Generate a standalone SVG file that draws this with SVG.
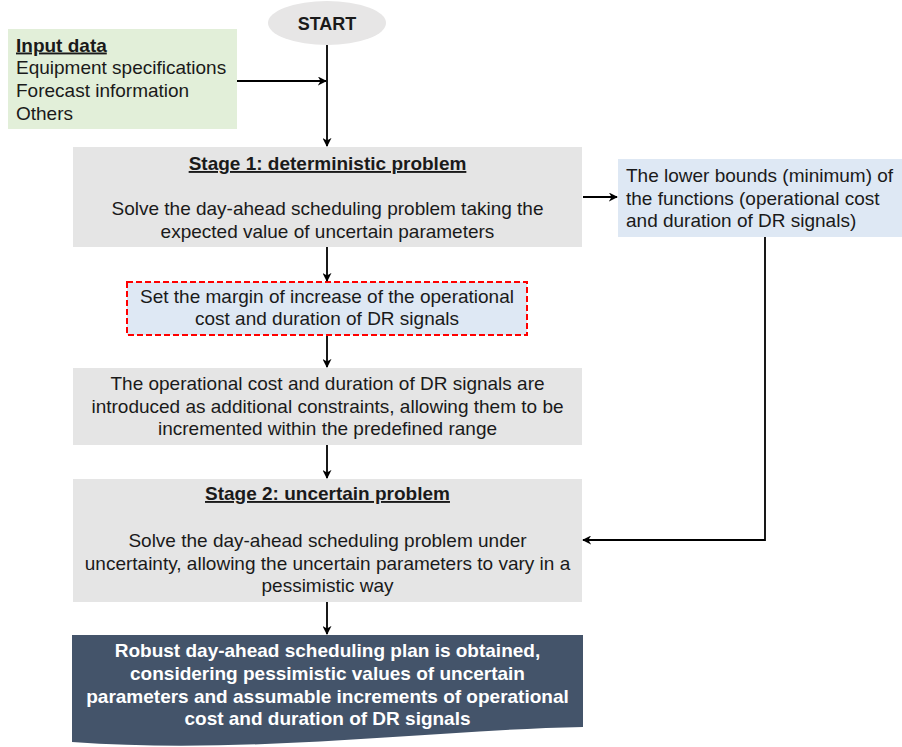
<svg xmlns="http://www.w3.org/2000/svg" width="902" height="747" viewBox="0 0 902 747">
<style>
text{font-family:"Liberation Sans",Arial,sans-serif;font-size:19px;fill:#1a1a1a}
.c{text-anchor:middle}
.b{font-weight:bold}
.u{text-decoration:underline}
.w{fill:#ffffff}
.gray{fill:#e5e5e5}
.blue{fill:#dee8f4}
.conn{stroke:#000;stroke-width:1.8;fill:none;marker-end:url(#ah)}
</style>
<defs>
<marker id="ah" viewBox="0 0 10 10" refX="9" refY="5" markerWidth="9" markerHeight="9" markerUnits="userSpaceOnUse" orient="auto">
<path d="M0,0 L10,5 L0,10 L3,5 z" fill="#000"/>
</marker>
</defs>
<g id="start">
<ellipse cx="327" cy="23" rx="59" ry="22" fill="#e7e6e6"/>
<text class="c b" x="327" y="30" style="font-size:18px">START</text>
</g>
<g id="input">
<rect x="8" y="29" width="229" height="100" fill="#e2efd9"/>
<text class="b u" x="16" y="51.5">Input data</text>
<text x="16" y="74">Equipment specifications</text>
<text x="16" y="97">Forecast information</text>
<text x="16" y="119.5">Others</text>
</g>
<g id="stage1">
<rect class="gray" x="73" y="147" width="509" height="100"/>
<text class="c b u" x="327.5" y="170">Stage 1: deterministic problem</text>
<text class="c" x="327.5" y="215">Solve the day-ahead scheduling problem taking the</text>
<text class="c" x="327.5" y="238">expected value of uncertain parameters</text>
</g>
<g id="lowerbounds">
<rect class="blue" x="618" y="159" width="284" height="78"/>
<text x="626" y="182">The lower bounds (minimum) of</text>
<text x="626" y="205">the functions (operational cost</text>
<text x="626" y="227">and duration of DR signals)</text>
</g>
<g id="margin">
<rect class="blue" x="127" y="282" width="400" height="53" stroke="#ff0000" stroke-width="2" stroke-dasharray="6,3"/>
<text class="c" x="327" y="303">Set the margin of increase of the operational</text>
<text class="c" x="327" y="325">cost and duration of DR signals</text>
</g>
<g id="constraints">
<rect class="gray" x="73" y="368" width="509" height="77"/>
<text class="c" x="327.5" y="390">The operational cost and duration of DR signals are</text>
<text class="c" x="327.5" y="413">introduced as additional constraints, allowing them to be</text>
<text class="c" x="327.5" y="435">incremented within the predefined range</text>
</g>
<g id="stage2">
<rect class="gray" x="73" y="479" width="509" height="123"/>
<text class="c b u" x="327.5" y="500">Stage 2: uncertain problem</text>
<text class="c" x="327.5" y="547">Solve the day-ahead scheduling problem under</text>
<text class="c" x="327.5" y="570">uncertainty, allowing the uncertain parameters to vary in a</text>
<text class="c" x="327.5" y="592">pessimistic way</text>
</g>
<g id="result">
<path d="M72,635 H583 V727 C430,730 250,755 72,742 Z" fill="#44546a"/>
<text class="c b w" x="327.5" y="657">Robust day-ahead scheduling plan is obtained,</text>
<text class="c b w" x="327.5" y="680">considering pessimistic values of uncertain</text>
<text class="c b w" x="327.5" y="703">parameters and assumable increments of operational</text>
<text class="c b w" x="327.5" y="725">cost and duration of DR signals</text>
</g>
<g id="connectors">
<path class="conn" d="M327,45 V146"/>
<path class="conn" d="M237,81 H326"/>
<path class="conn" d="M327,247 V281"/>
<path class="conn" d="M327,336 V367"/>
<path class="conn" d="M327,445 V478"/>
<path class="conn" d="M327,602 V634"/>
<path class="conn" d="M583,197 H617"/>
<path class="conn" d="M765,237 V540 H583"/>
</g>
</svg>
